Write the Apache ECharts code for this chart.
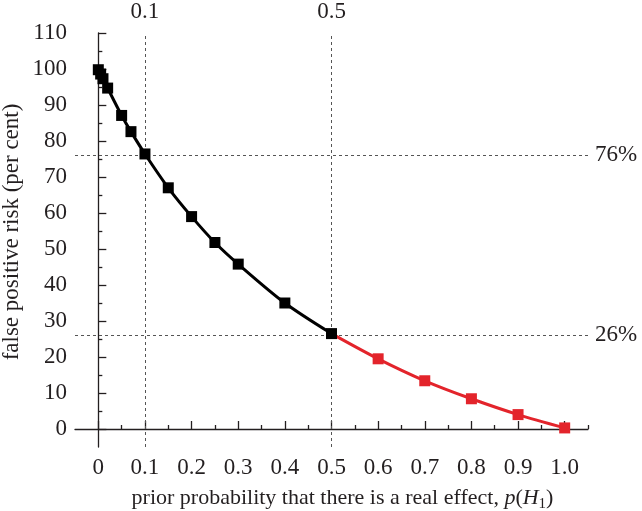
<!DOCTYPE html>
<html>
<head>
<meta charset="utf-8">
<script src="https://cdn.jsdelivr.net/npm/echarts@6/dist/echarts.min.js"></script>
<style>
html,body{margin:0;padding:0;background:#fff;}
#c{width:642px;height:511px;}
</style>
</head>
<body>
<div id="c"></div>
<script>
// prior probability p(H1) and false positive risk (per cent)
var priorBlack = [0, 0.005, 0.01, 0.02, 0.05, 0.07, 0.1, 0.15, 0.2, 0.25, 0.3, 0.4, 0.5];
var fprBlack   = [99.8, 98.6, 97.3, 94.7, 87.1, 82.6, 76.4, 67.0, 59.0, 51.8, 45.8, 35.0, 26.5];
var priorRed   = [0.6, 0.7, 0.8, 0.9, 1.0];
var fprRed     = [19.5, 13.4, 8.4, 4.0, 0.3];

var xMajorTicks = [0, 0.1, 0.2, 0.3, 0.4, 0.5, 0.6, 0.7, 0.8, 0.9, 1.0];
var xTickLabels = ['0', '0.1', '0.2', '0.3', '0.4', '0.5', '0.6', '0.7', '0.8', '0.9', '1.0'];
var xMinorTicks = [0.05, 0.15, 0.25, 0.35, 0.45, 0.55, 0.65, 0.75, 0.85, 0.95, 1.05];
var yMajorTicks = [0, 10, 20, 30, 40, 50, 60, 70, 80, 90, 100, 110];
var yMinorTicks = [5, 15, 25, 35, 45, 55, 65, 75, 85, 95, 105];

var refX = [0.1, 0.5];
var refXLabels = ['0.1', '0.5'];
var refY = [76, 26];
var refYLabels = ['76%', '26%'];

var FONT = 'Liberation Serif';
var TXT = '#231f20';

var blackData = priorBlack.map(function (p, i) { return [p, fprBlack[i]]; });
var redData = [{ value: [priorBlack[priorBlack.length - 1], fprBlack[fprBlack.length - 1]], symbol: 'none' }]
  .concat(priorRed.map(function (p, i) { return [p, fprRed[i]]; }));

function near(a, b) { return Math.abs(a - b) < 1e-6; }
function lookup(v, vals, labels) {
  for (var i = 0; i < vals.length; i++) if (near(v, vals[i])) return labels[i];
  return '';
}

var chart = echarts.init(document.getElementById('c'), null, { renderer: 'canvas' });
var markLines = refX.map(function (x) { return { xAxis: x }; })
  .concat(refY.map(function (y) { return { yAxis: y }; }));

chart.setOption({
  animation: false,
  backgroundColor: '#ffffff',
  grid: { left: 75, right: 54, top: 33, bottom: 64, containLabel: false, outerBoundsMode: 'none' },
  xAxis: [
    {
      type: 'value', min: -0.05, max: 1.05, position: 'bottom',
      axisLine: { show: true, lineStyle: { color: TXT, width: 1.3 } },
      axisTick: { show: true, inside: true, length: 8, customValues: xMajorTicks, lineStyle: { color: TXT, width: 1.3 } },
      axisLabel: {
        customValues: xMajorTicks, margin: 9, color: TXT, fontFamily: FONT, fontSize: 23,
        formatter: function (v) { return lookup(v, xMajorTicks, xTickLabels); }
      },
      splitLine: { show: false },
      name: 'prior probability that there is a real effect, {i|p}({i|H}{sub|1})',
      nameLocation: 'middle', nameGap: 38,
      nameTextStyle: {
        color: TXT, fontFamily: FONT, fontSize: 22, padding: [0, 0, 0, 22],
        rich: {
          i: { fontStyle: 'italic', fontFamily: FONT, fontSize: 22, color: TXT },
          sub: { fontSize: 15, fontFamily: FONT, color: TXT, padding: [12, 0, 0, 0] }
        }
      }
    },
    {
      type: 'value', min: -0.05, max: 1.05, position: 'bottom',
      axisLine: { show: false },
      axisTick: { show: true, inside: true, length: 4, customValues: xMinorTicks, lineStyle: { color: TXT, width: 1.3 } },
      axisLabel: { show: false },
      splitLine: { show: false }
    },
    {
      type: 'value', min: -0.05, max: 1.05, position: 'top',
      axisLine: { show: false },
      axisTick: { show: false },
      axisLabel: {
        customValues: refX, margin: 10, color: TXT, fontFamily: FONT, fontSize: 23,
        formatter: function (v) { return lookup(v, refX, refXLabels); }
      },
      splitLine: { show: false }
    }
  ],
  yAxis: [
    {
      type: 'value', min: -5, max: 110, position: 'left',
      axisLine: { show: true, lineStyle: { color: TXT, width: 1.3 } },
      axisTick: { show: true, inside: true, length: 8, customValues: yMajorTicks, lineStyle: { color: TXT, width: 1.3 } },
      axisLabel: { customValues: yMajorTicks, margin: 8, color: TXT, fontFamily: FONT, fontSize: 23 },
      splitLine: { show: false },
      name: 'false positive risk (per cent)',
      nameLocation: 'middle', nameGap: 52, nameMoveOverlap: false,
      nameTextStyle: { color: TXT, fontFamily: FONT, fontSize: 23, padding: [0, 0, 0, 16] }
    },
    {
      type: 'value', min: -5, max: 110, position: 'left',
      axisLine: { show: false },
      axisTick: { show: true, inside: true, length: 4, customValues: yMinorTicks, lineStyle: { color: TXT, width: 1.3 } },
      axisLabel: { show: false },
      splitLine: { show: false }
    },
    {
      type: 'value', min: -5, max: 110, position: 'right',
      axisLine: { show: false },
      axisTick: { show: false },
      axisLabel: {
        customValues: refY, margin: 7, color: TXT, fontFamily: FONT, fontSize: 23,
        formatter: function (v) { return lookup(v, refY, refYLabels); }
      },
      splitLine: { show: false }
    }
  ],
  series: [
    {
      type: 'line', data: redData, xAxisIndex: 0, yAxisIndex: 0,
      smooth: 0.3, symbol: 'rect', symbolSize: 11, z: 3,
      lineStyle: { color: '#e3242b', width: 3 },
      itemStyle: { color: '#e3242b' }
    },
    {
      type: 'line', data: blackData, xAxisIndex: 0, yAxisIndex: 0,
      smooth: 0.3, symbol: 'rect', symbolSize: 11, z: 4,
      lineStyle: { color: '#000000', width: 3 },
      itemStyle: { color: '#000000' },
      markLine: {
        silent: true, symbol: 'none', z: 1,
        label: { show: false },
        lineStyle: { color: '#555555', width: 1, type: [3, 3] },
        data: markLines
      }
    }
  ]
});
</script>
</body>
</html>
